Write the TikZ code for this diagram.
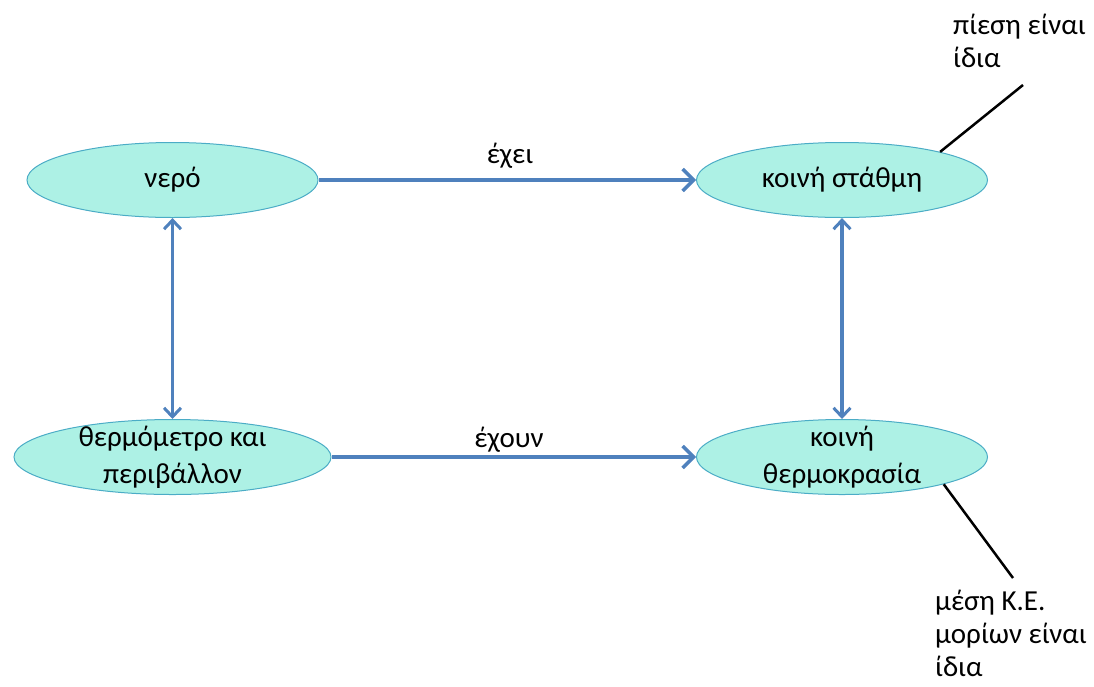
\documentclass[tikz,border=0pt]{standalone}
\usepackage{fontspec}
\setmainfont{Carlito}
\usetikzlibrary{shapes.geometric,arrows.meta}
\definecolor{bubblefill}{HTML}{ADF1E5}
\definecolor{bubbleedge}{HTML}{4BACC6}
\definecolor{linkblue}{HTML}{4F81BD}
\tikzset{
  bubble/.style={ellipse, draw=bubbleedge, line width=1pt, fill=bubblefill,
    inner sep=0pt, minimum height=75pt},
  txt/.style={font=\fontsize{29}{37}\selectfont, align=center, inner sep=0pt, text=black},
  note/.style={font=\fontsize{29}{33}\selectfont, align=left, inner sep=0pt, anchor=north west},
  mainlink/.style={draw=linkblue, line width=4pt, -{Straight Barb[length=11pt,width=22pt,line width=3.5pt]}},
  sidelink/.style={draw=linkblue, line width=3.2pt, {Straight Barb[length=9pt,width=17pt,line width=3pt]}-{Straight Barb[length=9pt,width=17pt,line width=3pt]}},
  pointer/.style={draw=black, line width=2.5pt}
}
\begin{document}
\begin{tikzpicture}[x=1pt,y=-1pt]
\useasboundingbox (0,0) rectangle (1094,686);

% concept bubbles
\node[bubble, minimum width=291pt] (nero) at (172.5,180) {};
\node[bubble, minimum width=291pt] (stathmi) at (842,180) {};
\node[bubble, minimum width=317pt] (thermo) at (172.5,457) {};
\node[bubble, minimum width=291pt] (thermokr) at (842,457) {};

\node[txt] (neroT) at (nero.center) {νερό};
\node[txt] (stathmiT) at (stathmi.center) {κοινή στάθμη};
\node[txt] (thermoT) at (thermo.center) {θερμόμετρο και\\περιβάλλον};
\node[txt] (thermokrT) at (thermokr.center) {κοινή\\θερμοκρασία};

% links
\draw[mainlink] (nero.east) -- (stathmi.west);
\draw[mainlink] (thermo.east) -- (thermokr.west);
\draw[sidelink] (nero.south) -- (thermo.north);
\draw[sidelink] (stathmi.south) -- (thermokr.north);

\node[txt] (echei) at (510,156) {έχει};
\node[txt] (echoun) at (509,440) {έχουν};

% side notes
\node[note] (pressure) at (953,14) {πίεση είναι\\ίδια};
\node[note] (kinetic) at (935,590) {μέση Κ.Ε.\\μορίων είναι\\ίδια};
\coordinate (pEnd) at (1023,85);
\coordinate (kEnd) at (1013,578);
\draw[pointer] (stathmi.16) -- (pEnd);
\draw[pointer] (thermokr.-15) -- (kEnd);
\end{tikzpicture}
\end{document}
